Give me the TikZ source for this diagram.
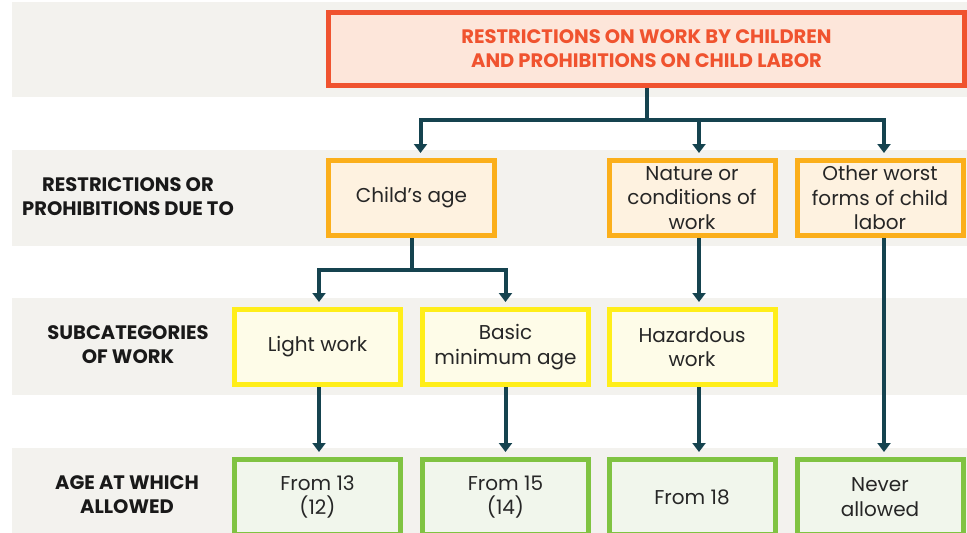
\documentclass[tikz,border=0pt]{standalone}
\usepackage{fontspec}
\setmainfont{Poppins}
\usetikzlibrary{arrows.meta}
\definecolor{bandgray}{HTML}{F3F2EE}
\definecolor{titlered}{HTML}{F0532F}
\definecolor{titlefill}{HTML}{FDE6DA}
\definecolor{causeorange}{HTML}{FBAF1B}
\definecolor{causefill}{HTML}{FEF2E0}
\definecolor{subyellow}{HTML}{FFEE1A}
\definecolor{subfill}{HTML}{FEFCE8}
\definecolor{agegreen}{HTML}{80C342}
\definecolor{agefill}{HTML}{F1F6EC}
\definecolor{linkteal}{HTML}{15434F}
\tikzset{
  box/.style={draw,line width=5pt,minimum width=166pt,minimum height=75pt,
    inner sep=2pt,align=center,text=black!85,font=\fontsize{20}{24.5}\selectfont},
  topbox/.style={box,draw=titlered,fill=titlefill,text=titlered,
    minimum width=636pt,minimum height=73pt,font=\bfseries\fontsize{19.5}{24}\selectfont},
  causebox/.style={box,draw=causeorange,fill=causefill},
  subbox/.style={box,draw=subyellow,fill=subfill},
  agebox/.style={box,draw=agegreen,fill=agefill},
  rowlabel/.style={align=center,text=black!90,font=\bfseries\fontsize{19.5}{24}\selectfont},
  link/.style={draw=linkteal,line width=4pt},
  arrow/.style={link,-{Triangle[length=9pt,width=13pt]},shorten >=5pt},
}
\begin{document}
\begin{tikzpicture}[x=1pt,y=-1pt]
  \useasboundingbox (0,0) rectangle (967,533);
  % grey bands
  \fill[bandgray] (12,2) rectangle (967,97);
  \fill[bandgray] (12,150) rectangle (967,246);
  \fill[bandgray] (12,298) rectangle (967,395);
  \fill[bandgray] (12,448) rectangle (967,533);
  % row labels
  \node[rowlabel] (lbldue) at (128,197) {RESTRICTIONS OR\\PROHIBITIONS DUE TO};
  \node[rowlabel] (lblsub) at (128,345) {SUBCATEGORIES\\OF WORK};
  \node[rowlabel] (lblage) at (127,495) {AGE AT WHICH\\ALLOWED};
  % boxes
  \node[topbox] (top) at (646.5,49) {RESTRICTIONS ON WORK BY CHILDREN\\AND PROHIBITIONS ON CHILD LABOR};
  \node[causebox] (age) at (411.5,198) {Child’s age};
  \node[causebox] (nature) at (692,198) {Nature or\\conditions of\\work};
  \node[causebox] (worst) at (880,198) {Other worst\\forms of child\\labor};
  \node[subbox] (light) at (317.5,347) {Light work};
  \node[subbox] (basic) at (505.5,347) {Basic\\minimum age};
  \node[subbox] (hazard) at (692,347) {Hazardous\\work};
  \node[agebox] (from13) at (317.5,497) {From 13\\(12)};
  \node[agebox] (from15) at (505.5,497) {From 15\\(14)};
  \node[agebox] (from18) at (692,497) {From 18};
  \node[agebox] (never) at (880,497) {Never\\allowed};
  % connectors
  \coordinate (forktop) at (646.5,120);
  \coordinate (forkage) at (411.5,270);
  \draw[link] (top.south) -- (forktop);
  \draw[arrow] (forktop) -| ([xshift=9pt]age.north);
  \draw[arrow] (forktop) -| ([xshift=7pt]nature.north);
  \draw[arrow] (forktop) -| ([xshift=4pt]worst.north);
  \draw[link] (age.south) -- (forkage);
  \draw[arrow] (forkage) -| ([xshift=1.5pt]light.north);
  \draw[arrow] (forkage) -| (basic.north);
  \draw[arrow] ([xshift=7pt]nature.south) -- ([xshift=7pt]hazard.north);
  \draw[arrow] ([xshift=4pt]worst.south) -- ([xshift=4pt]never.north);
  \draw[arrow] ([xshift=1.5pt]light.south) -- ([xshift=1.5pt]from13.north);
  \draw[arrow] (basic.south) -- (from15.north);
  \draw[arrow] ([xshift=7pt]hazard.south) -- ([xshift=7pt]from18.north);
\end{tikzpicture}
\end{document}
